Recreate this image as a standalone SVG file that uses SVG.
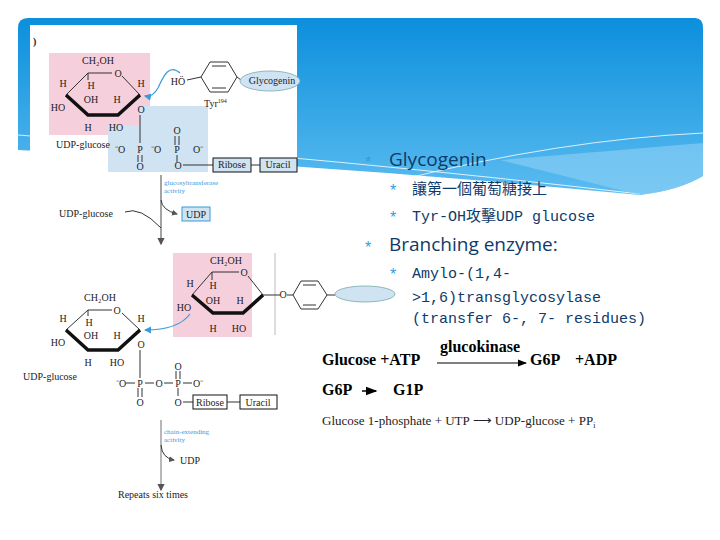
<svg xmlns="http://www.w3.org/2000/svg" width="720" height="540" viewBox="0 0 720 540">
<defs>
<linearGradient id="bg" x1="0" y1="0" x2="0" y2="1"><stop offset="0" stop-color="#0c8fdc"/><stop offset="1" stop-color="#5bbcf0"/></linearGradient>
<marker id="ah" markerWidth="6" markerHeight="6" refX="5" refY="3" orient="auto"><path d="M0,0 L6,3 L0,6 z" fill="#555"/></marker>
<marker id="ab" markerWidth="6" markerHeight="6" refX="5" refY="3" orient="auto"><path d="M0,0 L6,3 L0,6 z" fill="#3a9ad9"/></marker>
<marker id="ak" markerWidth="8" markerHeight="8" refX="7" refY="4" orient="auto"><path d="M0,1 L8,4 L0,7 z" fill="#000"/></marker>
</defs>
<style>
.c{font-family:"Liberation Serif",serif;font-size:10px;fill:#222}
.s{font-family:"Liberation Serif",serif;font-size:7px;fill:#3a9ad9}
.l{stroke:#333;stroke-width:1;fill:none}
.b{stroke:#111;stroke-width:3.5;fill:none}
.bx{fill:#cfe3f3;stroke:#111;stroke-width:1}
.h1{font-family:"Open Sans",sans-serif;font-size:19px;fill:#0e3a6a}
.h2{font-family:"Liberation Mono","Noto Sans CJK TC",monospace;font-size:15px;fill:#0e3a6a}
.st{fill:#2f9fe0;font-family:"Liberation Sans",sans-serif;font-size:16px}
.e{font-family:"Liberation Serif",serif;font-weight:bold;font-size:16px;fill:#000}
</style>
<rect width="720" height="540" fill="#fff"/>
<path d="M18,28 Q18,18 28,18 L695,18 Q703,18 703,28 L703,176 Q680,190 640,195 Q330,165 18,150 Z" fill="url(#bg)"/>
<path d="M18,135 Q350,160 640,194" stroke="#fff" stroke-width="0.8" fill="none"/>
<path d="M400,180 Q560,140 703,133" stroke="#fff" stroke-width="0.8" fill="none"/>
<path d="M500,160 Q620,150 703,143 L703,176 Q680,190 640,195 Z" fill="#8fd0f5" opacity="0.6"/>
<rect x="30" y="25" width="267" height="222" fill="#fff"/>
<g id="top-structure">
<text x="33" y="45" class="c" font-weight="bold">)</text>
<rect x="49" y="53" width="101" height="82" fill="#f6cfdd"/>
<path d="M108,125 H140 V106 H208 V172 H108 Z" fill="#cfe3f3"/>
<text x="98" y="64" class="c" text-anchor="middle">CH₂OH</text>
<path class="l" d="M88,73 L112,73 M122,76 L140,95 M88,73 L66,95 M88,73 V80"/>
<text x="118" y="77" class="c" text-anchor="middle">O</text>
<path class="b" d="M66,95 L88,115 L118,115 L140,95"/>
<text x="63" y="87" class="c" text-anchor="middle">H</text>
<text x="91" y="89" class="c" text-anchor="middle">H</text>
<text x="91" y="103" class="c" text-anchor="middle">OH</text>
<text x="117" y="103" class="c" text-anchor="middle">H</text>
<text x="58" y="111" class="c" text-anchor="middle">HO</text>
<text x="88" y="131" class="c" text-anchor="middle">H</text>
<text x="116" y="131" class="c" text-anchor="middle">HO</text>
<text x="141" y="87" class="c" text-anchor="middle">H</text>
<text x="141" y="113" class="c" text-anchor="middle">O</text>
<path class="l" d="M140,115 V143 M138,155 V162 M142,155 V162 M175,136 V145 M179,136 V145 M177,155 L177,162 M183,165 H213"/>
<text x="83" y="148" class="c" text-anchor="middle">UDP-glucose</text>
<text x="120" y="153" class="c" text-anchor="middle">⁻O</text>
<text x="140" y="153" class="c" text-anchor="middle">P</text>
<text x="156" y="153" class="c" text-anchor="middle">⁻O</text>
<text x="177" y="153" class="c" text-anchor="middle">P</text>
<text x="198" y="153" class="c" text-anchor="middle">O⁻</text>
<text x="177" y="134" class="c" text-anchor="middle">O</text>
<text x="140" y="170" class="c" text-anchor="middle">O</text>
<text x="178" y="169" class="c" text-anchor="middle">O</text>
<rect x="213" y="158" width="38" height="14" class="bx"/>
<text x="232" y="168" class="c" text-anchor="middle">Ribose</text>
<path class="l" d="M251,165 H260"/>
<rect x="260" y="158" width="37" height="14" class="bx"/>
<text x="278" y="168" class="c" text-anchor="middle">Uracil</text>
<text x="178" y="85" class="c" text-anchor="middle">HÖ</text>
<polygon points="201,77 210,62 228,62 237,77 228,92 210,92" class="l"/>
<path class="l" d="M212,66 H226 M212,88 H226 M187,80 L201,77 M237,77 L241,80"/>
<ellipse cx="270" cy="81" rx="30" ry="10" fill="#cfe3f3" stroke="#7aa" stroke-width="0.8"/>
<text x="272" y="84" class="c" text-anchor="middle">Glycogenin</text>
<text x="204" y="107" class="c">Tyr<tspan font-size="6" dy="-4">194</tspan></text>
<path d="M180,73 C168,62 162,80 158,88 C154,95 150,97 145,96" stroke="#3a9ad9" fill="none" stroke-width="1.2" marker-end="url(#ab)"/>
</g>
<g id="connectors">
<path d="M161,175 V244" stroke="#666" stroke-width="1.2" marker-end="url(#ah)"/>
<path d="M125,212 Q140,206 161,228" stroke="#333" fill="none"/>
<path d="M161,200 Q162,210 177,214" stroke="#333" fill="none" marker-end="url(#ah)"/>
<path d="M161,420 V490" stroke="#888" stroke-width="1.2" marker-end="url(#ah)"/>
<path d="M161,445 Q162,458 174,460" stroke="#333" fill="none" marker-end="url(#ah)"/>
</g>
<text x="164" y="185" class="s">glucosyltransferase</text>
<text x="164" y="193" class="s">activity</text>
<text x="86" y="217" class="c" text-anchor="middle">UDP-glucose</text>
<rect x="182" y="207" width="28" height="14" fill="#cfe3f3" stroke="#3a9ad9"/>
<text x="196" y="218" class="c" text-anchor="middle">UDP</text>
<g id="bottom-structure">
<rect x="173" y="253" width="79" height="84" fill="#f6cfdd"/>
<path d="M275,253 V335" stroke="#bbb"/>
<text x="226" y="264" class="c" text-anchor="middle">CH₂OH</text>
<path class="l" d="M212,272 L239,272 M248,276 L263,295 M212,272 L192,295 M212,272 V280 M263,295 L280,295 M287,295 L293,295"/>
<text x="244" y="276" class="c" text-anchor="middle">O</text>
<path class="b" d="M192,295 L213,313 L243,313 L263,295"/>
<text x="190" y="287" class="c" text-anchor="middle">H</text>
<text x="213" y="289" class="c" text-anchor="middle" fill="#123">H</text>
<text x="213" y="304" class="c" text-anchor="middle">OH</text>
<text x="240" y="304" class="c" text-anchor="middle">H</text>
<text x="184" y="311" class="c" text-anchor="middle">HO</text>
<text x="213" y="332" class="c" text-anchor="middle">H</text>
<text x="239" y="332" class="c" text-anchor="middle">HO</text>
<text x="283" y="298" class="c" text-anchor="middle">O</text>
<polygon points="293,295 301,281 318,281 327,295 318,309 301,309" class="l"/>
<path class="l" d="M303,285 H316 M303,305 H316 M327,295 L335,295"/>
<ellipse cx="365" cy="294" rx="30" ry="8" fill="#cfe3f3" stroke="#7aa" stroke-width="0.8"/>
<text x="100" y="301" class="c" text-anchor="middle">CH₂OH</text>
<path class="l" d="M88,310 L112,310 M122,313 L140,330 M88,310 L66,330 M88,310 V316"/>
<text x="117" y="314" class="c" text-anchor="middle">O</text>
<path class="b" d="M66,330 L88,350 L118,350 L140,330"/>
<text x="63" y="322" class="c" text-anchor="middle">H</text>
<text x="89" y="326" class="c" text-anchor="middle">H</text>
<text x="91" y="339" class="c" text-anchor="middle">OH</text>
<text x="117" y="339" class="c" text-anchor="middle">H</text>
<text x="58" y="346" class="c" text-anchor="middle">HO</text>
<text x="88" y="366" class="c" text-anchor="middle">H</text>
<text x="117" y="366" class="c" text-anchor="middle">HO</text>
<text x="141" y="322" class="c" text-anchor="middle">H</text>
<text x="141" y="348" class="c" text-anchor="middle">O</text>
<path class="l" d="M140,350 V378 M126,383 H135 M145,383 H154 M164,383 H173 M183,383 H192 M138,388 V397 M142,388 V397 M176,371 V379 M180,371 V379 M178,388 V396 M183,402 H193"/>
<text x="50" y="380" class="c" text-anchor="middle">UDP-glucose</text>
<text x="121" y="387" class="c" text-anchor="middle">⁻O</text>
<text x="140" y="387" class="c" text-anchor="middle">P</text>
<text x="159" y="387" class="c" text-anchor="middle">O</text>
<text x="178" y="387" class="c" text-anchor="middle">P</text>
<text x="198" y="387" class="c" text-anchor="middle">O⁻</text>
<text x="178" y="370" class="c" text-anchor="middle">O</text>
<text x="140" y="406" class="c" text-anchor="middle">O</text>
<text x="178" y="406" class="c" text-anchor="middle">O</text>
<rect x="193" y="395" width="34" height="14" fill="#fff" stroke="#111"/>
<text x="210" y="406" class="c" text-anchor="middle">Ribose</text>
<path class="l" d="M227,402 H240"/>
<rect x="240" y="395" width="37" height="14" fill="#fff" stroke="#111"/>
<text x="258" y="406" class="c" text-anchor="middle">Uracil</text>
<path d="M190,314 C182,325 165,330 145,330" stroke="#3a9ad9" fill="none" stroke-width="1.2" marker-end="url(#ab)"/>
</g>
<text x="164" y="434" class="s">chain-extending</text>
<text x="164" y="442" class="s">activity</text>
<text x="180" y="464" class="c">UDP</text>
<text x="118" y="498" class="c">Repeats six times</text>
<g id="bullets">
<text x="365" y="168" class="st">*</text>
<text x="389" y="166" class="h1">Glycogenin</text>
<text x="390" y="196" class="st" font-size="13">*</text>
<text x="412" y="194" class="h2">讓第一個葡萄糖接上</text>
<text x="390" y="223" class="st" font-size="13">*</text>
<text x="412" y="221" class="h2">Tyr-OH攻擊UDP glucose</text>
<text x="365" y="253" class="st">*</text>
<text x="389" y="251" class="h1">Branching enzyme:</text>
<text x="390" y="280" class="st" font-size="13">*</text>
<text x="412" y="278" class="h2">Amylo-(1,4-</text>
<text x="412" y="302" class="h2">&gt;1,6)transglycosylase</text>
<text x="412" y="323" class="h2">(transfer 6-, 7- residues)</text>
</g>
<g id="equations">
<text x="322" y="365" class="e">Glucose +ATP</text>
<text x="440" y="352" class="e">glucokinase</text>
<path d="M437,363 H526" stroke="#000" stroke-width="1.2" marker-end="url(#ak)"/>
<text x="530" y="365" class="e">G6P</text>
<text x="575" y="365" class="e">+ADP</text>
<text x="322" y="395" class="e">G6P</text>
<path d="M362,391 H376" stroke="#000" stroke-width="1.5" marker-end="url(#ak)"/>
<text x="393" y="395" class="e">G1P</text>
<text x="322" y="425" font-family="Liberation Serif,serif" font-size="13" fill="#222">Glucose 1-phosphate + UTP ⟶ UDP-glucose + PP<tspan font-size="8" dy="3">i</tspan></text>
</g>
</svg>
